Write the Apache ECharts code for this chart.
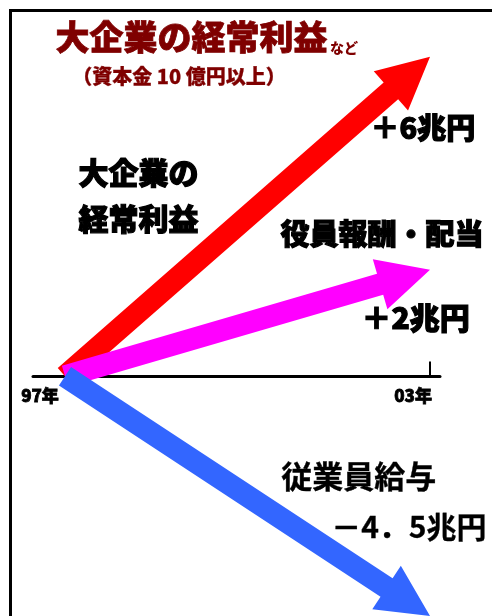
<!DOCTYPE html>
<html>
<head>
<meta charset="utf-8">
<script src="https://cdn.jsdelivr.net/npm/echarts@6/dist/echarts.min.js"></script>
<style>
html,body{margin:0;padding:0;background:#fff;}
#chart{width:492px;height:616px;}
</style>
</head>
<body>
<div id="chart"></div>
<script>
// ---- data ----
const years = [1997, 2003];
const yearLabels = ['97年', '03年'];
const seriesNames = ['大企業の経常利益', '役員報酬・配当', '従業員給与'];
const startValues = [0, 0, 0];
const endValues = [6, 2, -4.5];
const valueLabels = ['＋6兆円', '＋2兆円', '－4．5兆円'];
const colors = ['#ff0000', '#ff00ff', '#3366ff'];

const FONT = '"Noto Sans CJK JP", "Noto Sans", sans-serif';

function arrowRenderer(color) {
  return function (params, api) {
    const p0 = api.coord([api.value(0), api.value(1)]);
    const p1 = api.coord([api.value(2), api.value(3)]);
    const dx = p1[0] - p0[0], dy = p1[1] - p0[1];
    const len = Math.hypot(dx, dy);
    const ux = dx / len, uy = dy / len;
    const nx = -uy, ny = ux;
    const w = 11, hw = 26, hl = 52;
    const bx = p1[0] - ux * hl, by = p1[1] - uy * hl;
    const pts = [
      [p0[0] + nx * w, p0[1] + ny * w],
      [bx + nx * w, by + ny * w],
      [bx + nx * hw, by + ny * hw],
      [p1[0], p1[1]],
      [bx - nx * hw, by - ny * hw],
      [bx - nx * w, by - ny * w],
      [p0[0] - nx * w, p0[1] - ny * w]
    ];
    return { type: 'polygon', shape: { points: pts }, style: { fill: color } };
  };
}

const series = seriesNames.map((name, i) => ({
  type: 'custom',
  name: name,
  renderItem: arrowRenderer(colors[i]),
  encode: { x: [0, 2], y: [1, 3] },
  data: [[years[0], startValues[i], years[1], endValues[i]]],
  z: 2 + i,
  silent: true
}));

function txt(left, top, text, size, color, weight, stroke) {
  return {
    type: 'text', left: left, top: top, z: 100,
    style: {
      text: text, fontFamily: FONT, fontWeight: weight, fontSize: size, fill: color,
      stroke: stroke ? color : null, lineWidth: stroke || 0
    }
  };
}

const chart = echarts.init(document.getElementById('chart'), null, { renderer: 'canvas' });
chart.setOption({
  animation: false,
  backgroundColor: '#ffffff',
  grid: { left: 33, right: 52, top: 30, height: 586, outerBoundsMode: 'none', containLabel: false },
  xAxis: {
    type: 'value',
    min: 1996.474,
    max: 2003.164,
    offset: -239.5,
    splitLine: { show: false },
    axisLine: { show: true, onZero: false, lineStyle: { color: '#000', width: 3 } },
    axisTick: { show: true, inside: true, length: 15, customValues: [years[1]], lineStyle: { color: '#000', width: 2 } },
    axisLabel: {
      show: true,
      customValues: years,
      margin: 11,
      hideOverlap: false,
      formatter: function (v) {
        const idx = years.indexOf(v);
        return idx === 0 ? '{a|' + yearLabels[0] + '}' : '{b|' + yearLabels[1] + '}';
      },
      rich: {
        a: { fontFamily: FONT, fontWeight: 900, fontSize: 17, color: '#000', textBorderColor: '#000', textBorderWidth: 0.8, padding: [0, 50, 0, 0] },
        b: { fontFamily: FONT, fontWeight: 900, fontSize: 17, color: '#000', textBorderColor: '#000', textBorderWidth: 0.8, padding: [0, 34, 0, 0] }
      }
    }
  },
  yAxis: {
    type: 'value',
    min: -4.5,
    max: 6.5,
    show: false,
    splitLine: { show: false }
  },
  series: series,
  graphic: [
    { type: 'rect', shape: { x: 10.5, y: 10.5, width: 600, height: 700 }, style: { fill: null, stroke: '#000', lineWidth: 3 }, z: 100 },
    txt(55, 20, '大企業の経常利益', 34, '#7f0000', 900, 0.8),
    txt(330, 41, 'など', 14, '#7f0000', 900, 0),
    txt(72, 66, '（資本金 10 億円以上）', 20, '#7f0000', 900, 0.3),
    txt(78, 157, '大企業の', 30, '#000', 900, 1.2),
    txt(78, 203, '経常利益', 30, '#000', 900, 1.2),
    txt(370, 113, valueLabels[0], 29, '#000', 900, 1.2),
    txt(280, 219, '役員報酬・配当', 29, '#000', 900, 1.2),
    txt(361, 302, valueLabels[1], 30, '#000', 900, 1.2),
    txt(281, 461, '従業員給与', 31, '#000', 'bold', 0.4),
    txt(331, 511, valueLabels[2], 30, '#000', 'bold', 0.3)
  ]
});
</script>
</body>
</html>
